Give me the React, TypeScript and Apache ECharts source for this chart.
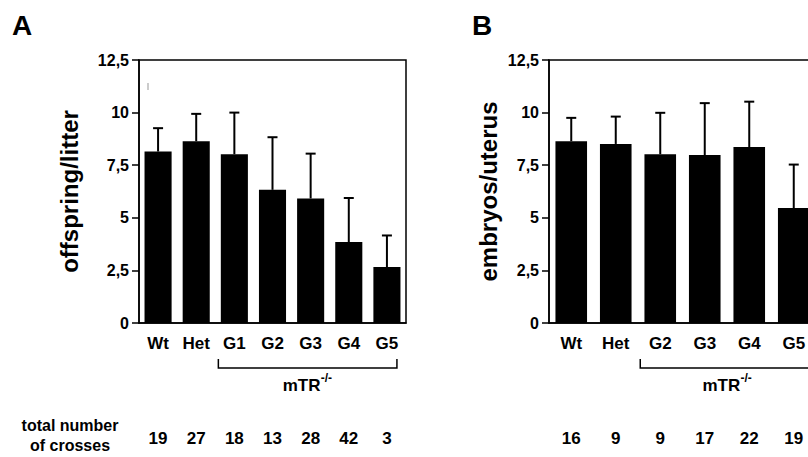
import React, { useEffect, useRef } from "react";
import * as echarts from "echarts";

const catsA = ["Wt", "Het", "G1", "G2", "G3", "G4", "G5"];
const meansA = [8.15, 8.64, 8.02, 6.33, 5.92, 3.85, 2.66];
const upperA = [9.26, 9.94, 10.0, 8.83, 8.05, 5.94, 4.16];
const crossesA = [19, 27, 18, 13, 28, 42, 3];

const catsB = ["Wt", "Het", "G2", "G3", "G4", "G5"];
const meansB = [8.64, 8.51, 8.02, 7.98, 8.36, 5.46];
const upperB = [9.75, 9.81, 9.99, 10.45, 10.52, 7.53];
const crossesB = [16, 9, 9, 17, 22, 19];

const FONT = "'Liberation Sans', Arial, Helvetica, sans-serif";

function errRender(params: any, api: any) {
  const base = api.coord([api.value(0), api.value(1)]);
  const top = api.coord([api.value(0), api.value(2)]);
  const st = { stroke: "#000", lineWidth: 2 };
  return {
    type: "group",
    children: [
      { type: "line", shape: { x1: base[0], y1: base[1], x2: top[0], y2: top[1] }, style: st },
      { type: "line", shape: { x1: top[0] - 5, y1: top[1], x2: top[0] + 5, y2: top[1] }, style: st },
    ],
  };
}

function makeX(grid: number, cats: string[]) {
  return {
    type: "category",
    gridIndex: grid,
    data: cats,
    position: "bottom",
    axisLine: { lineStyle: { color: "#000", width: 1.5 } },
    axisTick: { alignWithLabel: true, length: 8, lineStyle: { color: "#000", width: 1.5 } },
    axisLabel: { color: "#000", fontWeight: "bold", fontSize: 17, fontFamily: FONT, margin: 12 },
  };
}
function makeCountX(grid: number, cats: string[], counts: number[]) {
  return {
    type: "category",
    gridIndex: grid,
    data: cats,
    position: "bottom",
    axisLine: { show: false },
    axisTick: { show: false },
    axisLabel: {
      color: "#000",
      fontWeight: "bold",
      fontSize: 17,
      fontFamily: FONT,
      margin: 107,
      formatter: (_v: string, i: number) => String(counts[i]),
    },
  };
}
function makeY(grid: number, name: string, gap: number) {
  return {
    type: "value",
    gridIndex: grid,
    min: 0,
    max: 12.5,
    interval: 2.5,
    axisLine: { show: true, lineStyle: { color: "#000", width: 1.5 } },
    axisTick: { show: true, length: 7, lineStyle: { color: "#000", width: 1.5 } },
    splitLine: { show: false },
    axisLabel: {
      color: "#000",
      fontWeight: "bold",
      fontSize: 16,
      fontFamily: FONT,
      margin: 10,
      formatter: (v: number) => String(v).replace(".", ","),
    },
    name,
    nameLocation: "middle",
    nameGap: gap,
    nameTextStyle: { color: "#000", fontWeight: "bold", fontSize: 24, fontFamily: FONT },
  };
}

export default function App() {
  const ref = useRef<HTMLDivElement>(null);
  useEffect(() => {
    if (!ref.current) return;
    const chart = echarts.init(ref.current, undefined, { renderer: "svg" });
    const option: any = {
      animation: false,
      backgroundColor: "#fff",
      grid: [
        { left: 139, top: 60, width: 267, height: 263, show: true, borderColor: "#000", borderWidth: 1.5 },
        { left: 549, top: 60, width: 267, height: 263, show: true, borderColor: "#000", borderWidth: 1.5 },
      ],
      xAxis: [makeX(0, catsA), makeCountX(0, catsA, crossesA), makeX(1, catsB), makeCountX(1, catsB, crossesB)],
      yAxis: [makeY(0, "offspring/litter", 58), makeY(1, "embryos/uterus", 49)],
      series: [
        { type: "bar", xAxisIndex: 0, yAxisIndex: 0, data: meansA, barWidth: "71%", itemStyle: { color: "#000" } },
        {
          type: "custom",
          xAxisIndex: 0,
          yAxisIndex: 0,
          renderItem: errRender,
          data: catsA.map((_, i) => [i, meansA[i], upperA[i]]),
          z: 3,
        },
        { type: "bar", xAxisIndex: 2, yAxisIndex: 1, data: meansB, barWidth: "71%", itemStyle: { color: "#000" } },
        {
          type: "custom",
          xAxisIndex: 2,
          yAxisIndex: 1,
          renderItem: errRender,
          data: catsB.map((_, i) => [i, meansB[i], upperB[i]]),
          z: 3,
        },
      ],
    };
    chart.setOption(option);

    const px = (axis: number, cat: string) => chart.convertToPixel({ xAxisIndex: axis } as any, cat) as number;
    const txt = (text: string, x: number, y: number, size: number, align = "center", vAlign = "middle", extra: any = {}) => ({
      type: "text",
      x,
      y,
      style: {
        text,
        fill: "#000",
        fontSize: size,
        fontWeight: "bold",
        fontFamily: FONT,
        align,
        textAlign: align,
        verticalAlign: vAlign,
        textVerticalAlign: vAlign,
        ...extra,
      },
    });
    const bracket = (l: number, r: number) => ({
      type: "polyline",
      shape: { points: [[l, 359], [l, 368], [r, 368], [r, 359]] },
      style: { stroke: "#000", lineWidth: 1.5, fill: "none" },
    });
    const mtr = (cx: number) => [
      txt("mTR", cx - 25, 385, 17, "left", "middle"),
      txt("-/-", cx + 13, 378, 12, "left", "middle"),
    ];
    const aL = px(0, "G1") - 16;
    const aR = px(0, "G5") + 10;
    const bL = px(2, "G2") - 20;
    const bR = px(2, "G5") + 21;
    chart.setOption({
      graphic: [
        txt("A", 12, 11, 28, "left", "top"),
        txt("B", 472, 11, 28, "left", "top"),
        bracket(aL, aR),
        bracket(bL, bR),
        ...mtr((aL + aR) / 2),
        ...mtr((bL + bR) / 2),
        txt("total number", 70, 425, 16, "center", "middle"),
        txt("of crosses", 70, 445, 16, "center", "middle"),
        { type: "line", shape: { x1: 148, y1: 83, x2: 148, y2: 90 }, style: { stroke: "#999", lineWidth: 1 } },
      ],
    });
    return () => chart.dispose();
  }, []);
  return (
    <div style={{ position: "fixed", left: 0, top: 0, width: 808, height: 457, overflow: "hidden", background: "#fff" }}>
      <div ref={ref} style={{ width: 840, height: 457 }} />
    </div>
  );
}
